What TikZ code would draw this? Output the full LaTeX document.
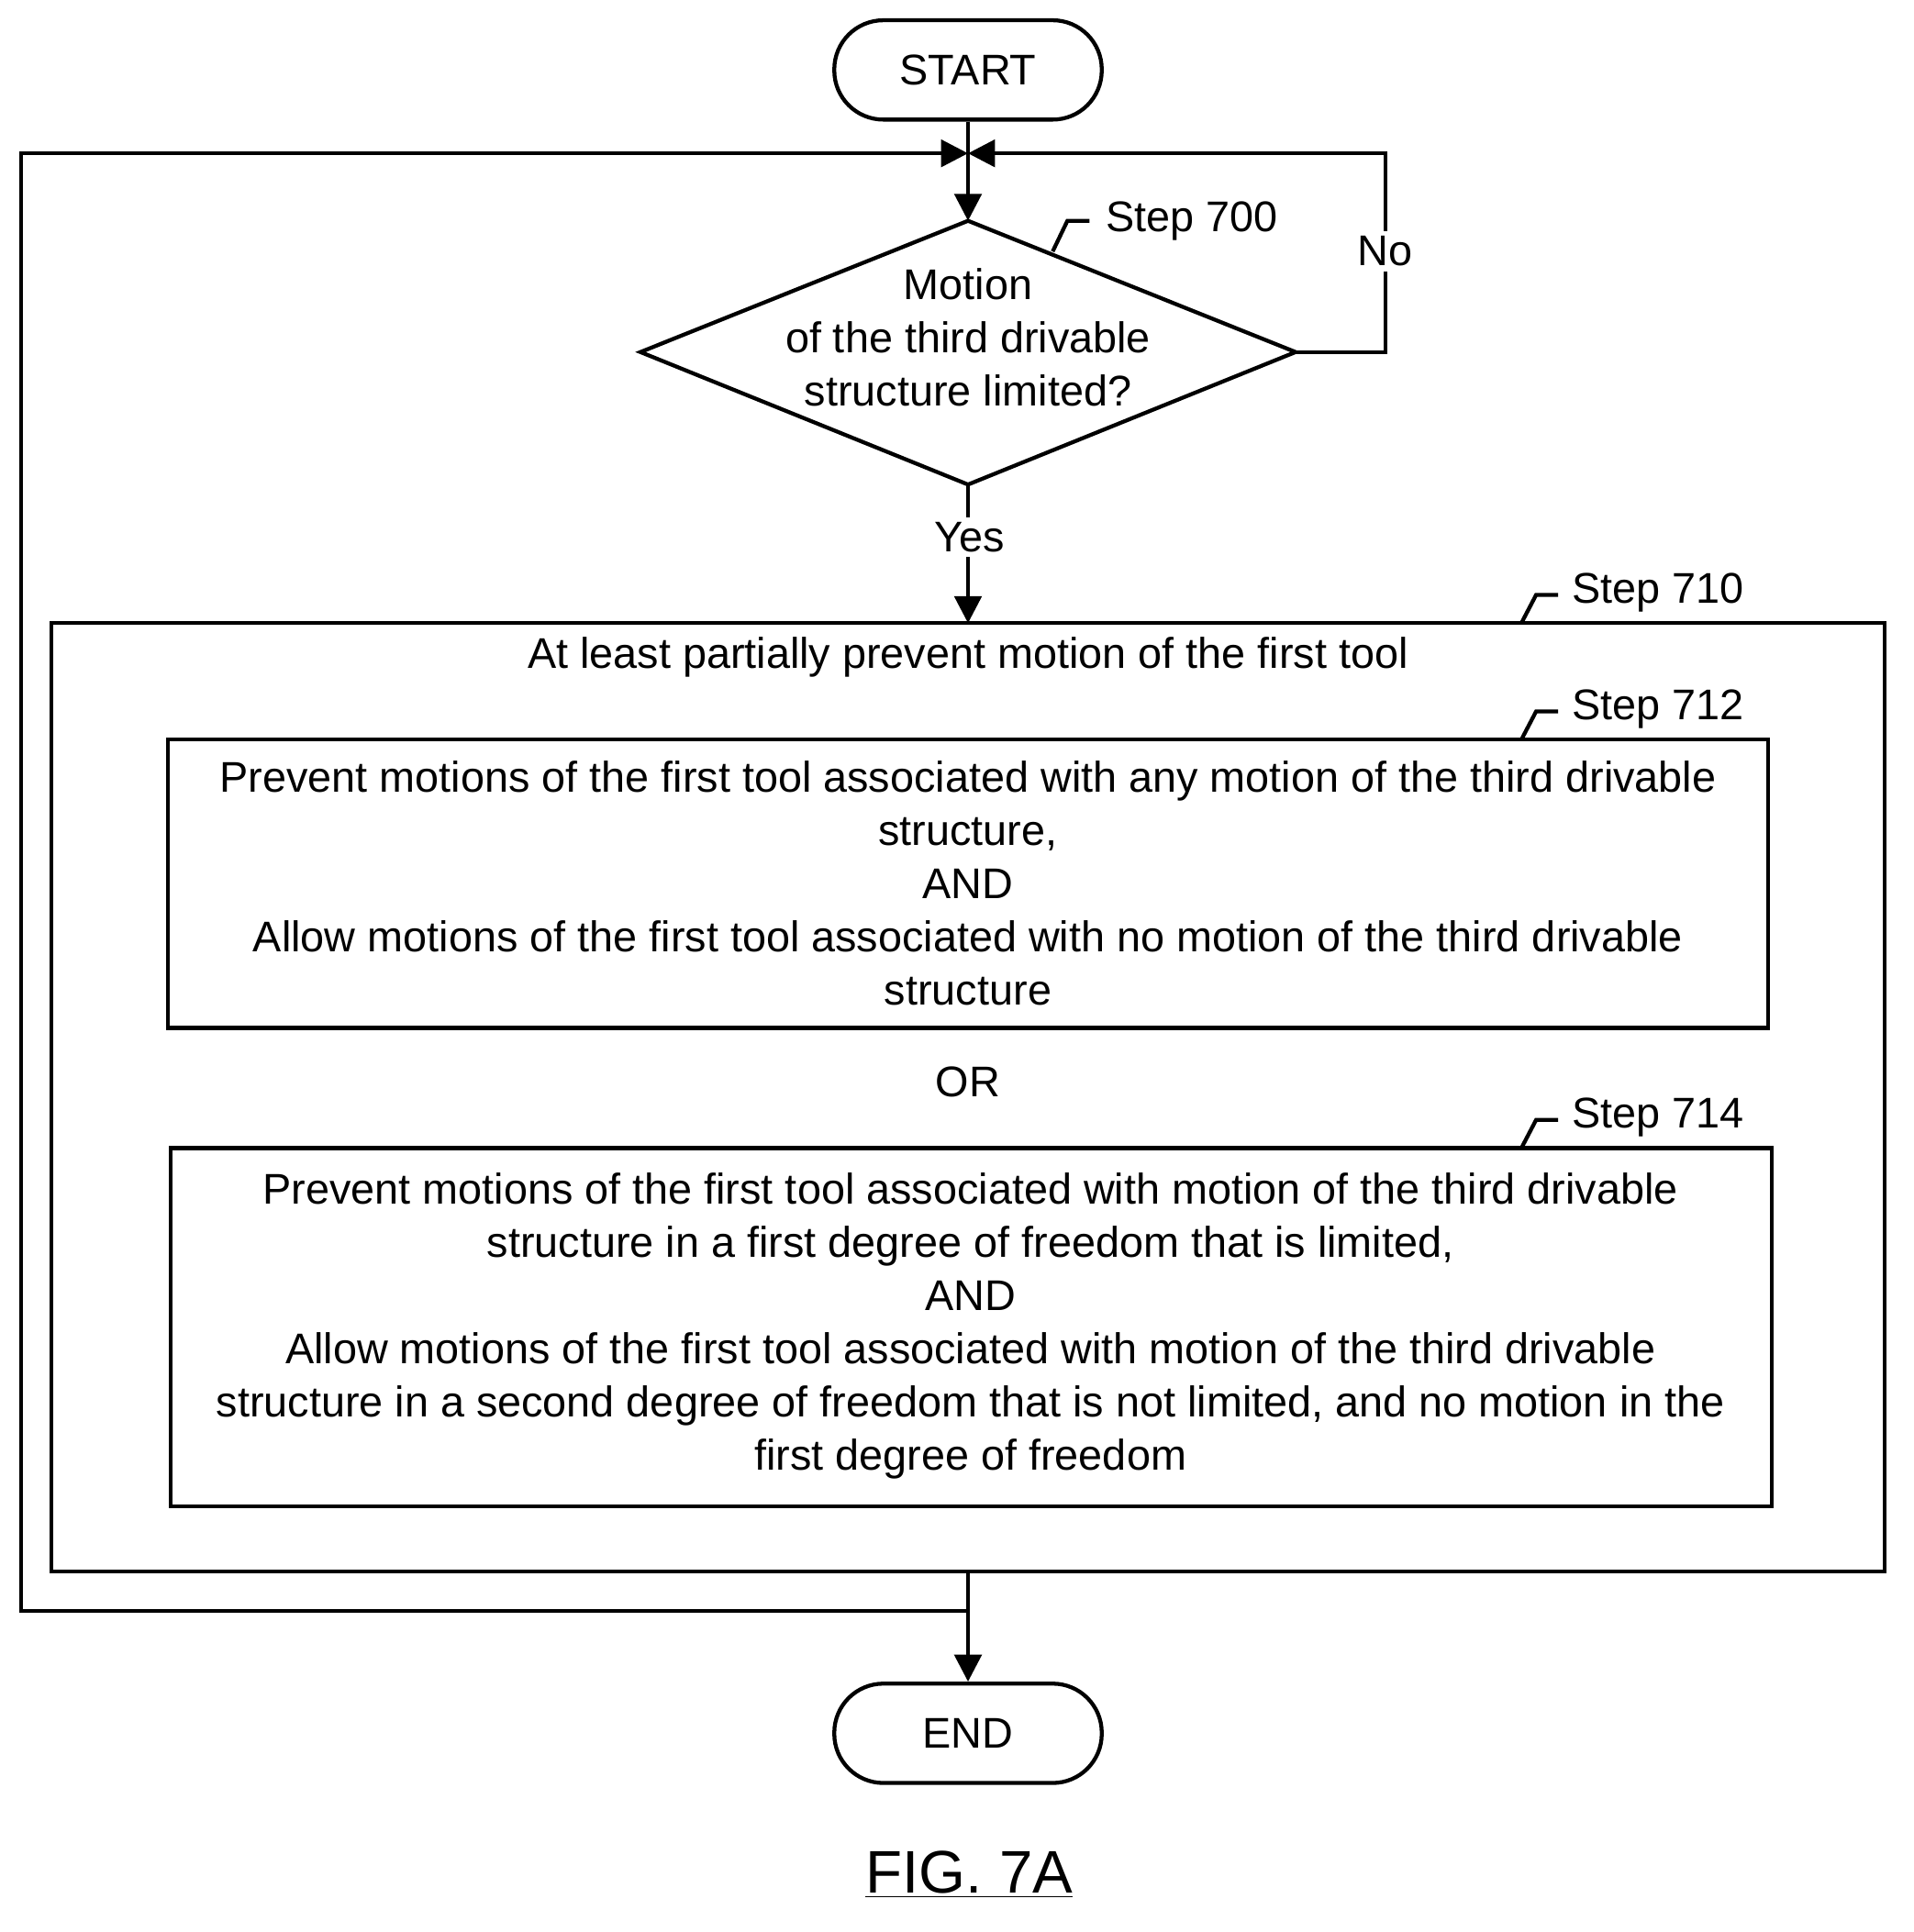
\documentclass[tikz,border=0pt]{standalone}
\usepackage{fontspec}
\setmainfont{Liberation Sans}
\usetikzlibrary{shapes.geometric,arrows.meta}
\begin{document}
\begin{tikzpicture}[x=0.5pt,y=-0.5pt,line width=1.6pt,
  txt/.style={font=\fontsize{17.5}{21.7}\selectfont,align=center,inner sep=0},
  term/.style={draw,rounded corners=20pt,minimum width=109pt,minimum height=40.5pt,font=\fontsize{17.5}{21.7}\selectfont},
  arr/.style={-{Triangle[length=11pt,width=11pt]}},
  lab/.style={font=\fontsize{17.5}{21.7}\selectfont,anchor=west,inner sep=0}]
\useasboundingbox (0,0) rectangle (1560,1575);
\node[term] (start) at (789,57) {START};
\coordinate (j) at (789,125);
\coordinate (dtop) at (789,180);
\coordinate (dbot) at (789,395);
\coordinate (dl) at (522,287);
\coordinate (dr) at (1056,287);
\draw (dtop) -- (dr) -- (dbot) -- (dl) -- cycle;
\node[txt] (dtxt) at (789,275) {Motion\\of the third drivable\\structure limited?};
\draw (start.south) -- (j);
\draw[arr] (j) -- (dtop);
\coordinate (nr) at (1129,287);
\coordinate (nt) at (1129,125);
\draw[arr] (dr) -- (nr) -- (nt) -- (j);
\node[txt,fill=white,inner sep=2pt] (no) at (1129,205) {No};
\draw (858,205) -- (870,180) -- (888,180);
\node[lab] (s700) at (900,180) {Step 700};
% outer box
\draw (42,508) rectangle (1536,1281);
\coordinate (btop) at (789,508);
\draw[arr] (dbot) -- (btop);
\node[txt,fill=white,inner sep=2pt] (yes) at (790,438) {Yes};
\draw (1240,508) -- (1252,485) -- (1270,485);
\node[lab] (s710) at (1280,483) {Step 710};
\node[txt] (title) at (789,536) {At least partially prevent motion of the first tool};
\draw (137,603) rectangle (1441,838);
\node[txt] (t712) at (789,720) {Prevent motions of the first tool associated with any motion of the third drivable\\structure,\\AND\\Allow motions of the first tool associated with no motion of the third drivable\\structure};
\draw (1240,603) -- (1252,580) -- (1270,580);
\node[lab] (s712) at (1280,578) {Step 712};
\node[txt] (or) at (789,882) {OR};
\draw (139,936) rectangle (1444,1228);
\node[txt] (t714) at (791,1081) {Prevent motions of the first tool associated with motion of the third drivable\\structure in a first degree of freedom that is limited,\\AND\\Allow motions of the first tool associated with motion of the third drivable\\structure in a second degree of freedom that is not limited, and no motion in the\\first degree of freedom};
\draw (1240,936) -- (1252,913) -- (1270,913);
\node[lab] (s714) at (1280,911) {Step 714};
% end
\node[term] (end) at (789,1413) {END};
\coordinate (bbot) at (789,1281);
\coordinate (lp) at (789,1313);
\draw[arr] (bbot) -- (end.north);
\draw[arr] (lp) -- (17,1313) -- (17,125) -- (j);
\node[font=\fontsize{24.5}{28}\selectfont,inner sep=0] (fig) at (790,1528) {\underline{FIG. 7A}};
\end{tikzpicture}
\end{document}
